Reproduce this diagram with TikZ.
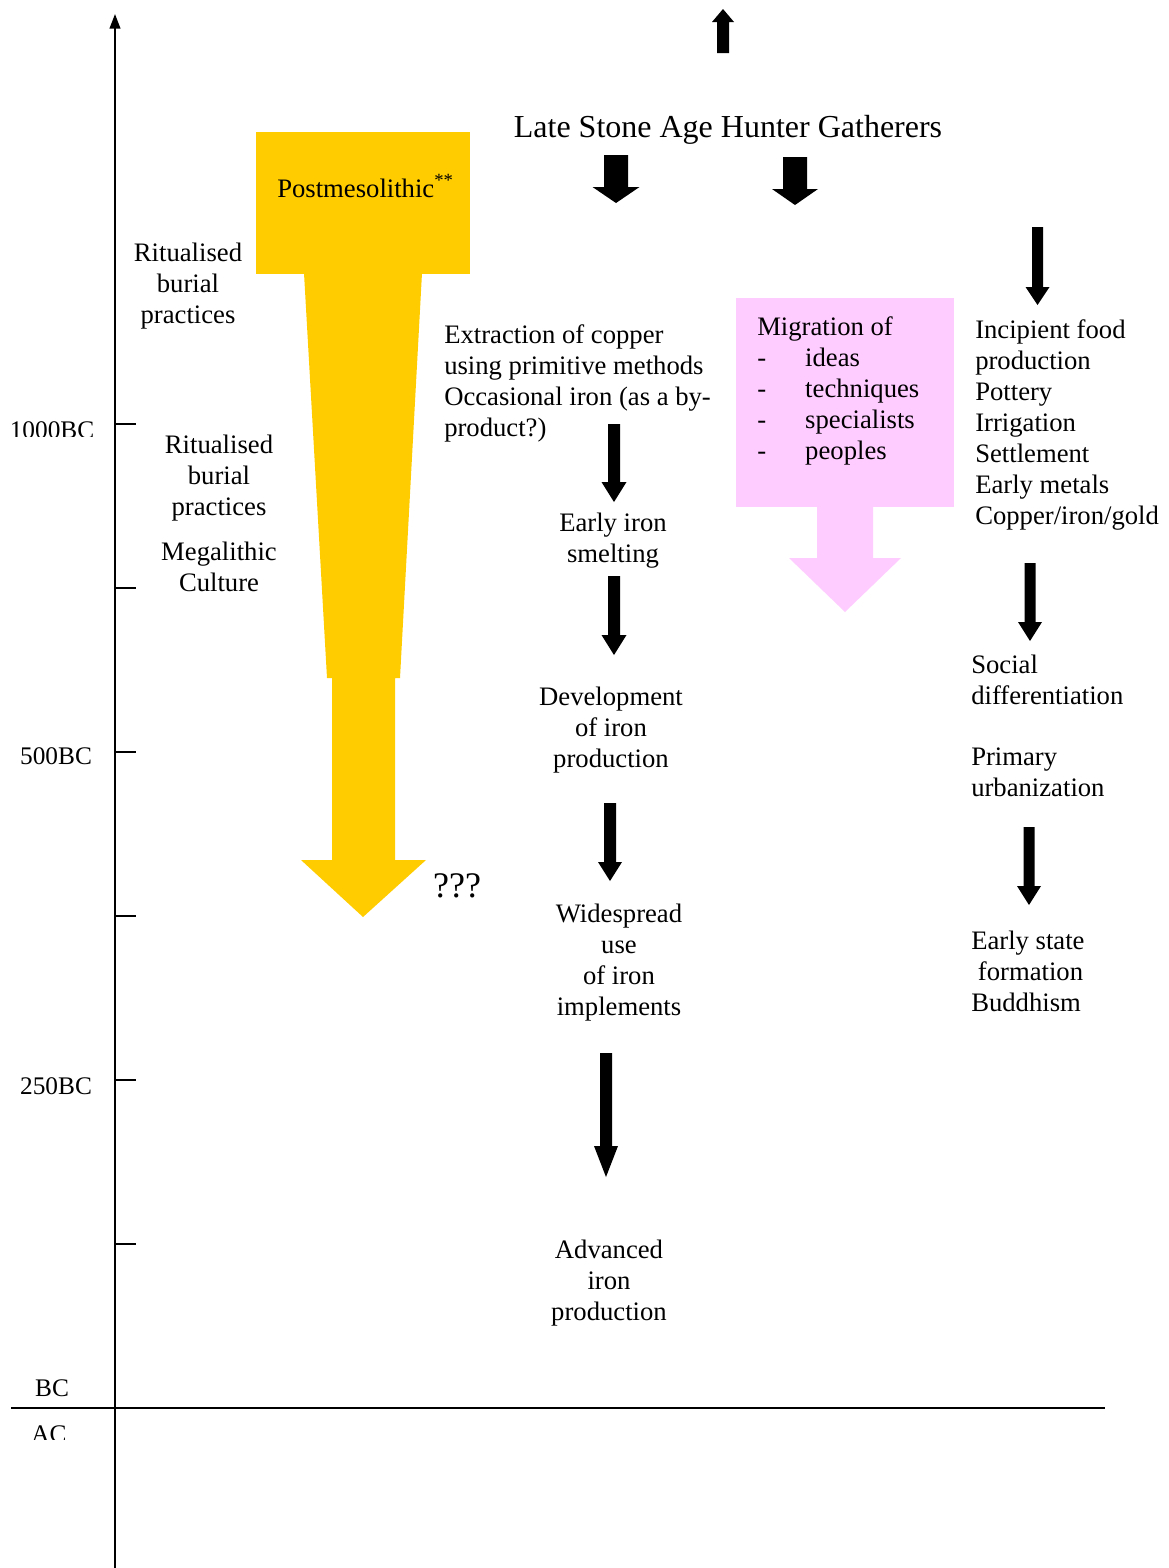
\documentclass[tikz,border=0pt]{standalone}
\usepackage{fontspec}
\setmainfont{Liberation Serif}
\usetikzlibrary{arrows.meta}
\definecolor{gold}{HTML}{FFCC00}
\definecolor{pinkish}{HTML}{FFCCFF}
% black block arrow: cx, tail end, head base, tip, shaft half-width, head half-width
\newcommand{\blkdown}[6]{%
  \fill[black] ({#1-#5},#2) -- ({#1+#5},#2) -- ({#1+#5},#3) -- ({#1+#6},#3) -- (#1,#4) -- ({#1-#6},#3) -- ({#1-#5},#3) -- cycle;}
\tikzset{
  txt/.style={font=\fontsize{20}{23.25}\selectfont, inner sep=0pt, align=center},
  ltxt/.style={txt, align=left, anchor=west},
  axlab/.style={font=\fontsize{19}{22}\selectfont, inner sep=0pt},
  axis/.style={line width=1.5pt, black},
}
\begin{document}
\begin{tikzpicture}[x=0.75pt, y=-0.75pt]
\useasboundingbox (0,0) rectangle (1169,1568);

% time axis
\draw[axis, -{Triangle[length=11pt,width=8pt]}] (115,1568) -- (115,14);
\foreach \ty in {424,588,752,916,1080,1244} \draw[axis] (115,\ty) -- (136,\ty);
\draw[axis] (11,1408) -- (1105,1408);

\begin{scope}
  \clip (0,410) rectangle (112,436);
  \node[axlab] (l1000) at (52,430) {1000BC};
\end{scope}
\node[axlab] (l500) at (56,756) {500BC};
\node[axlab] (l250) at (56,1086) {250BC};
\node[axlab] (lbc) at (52,1388) {BC};
\begin{scope}
  \clip (0,1415) rectangle (112,1439);
  \node[axlab] (lac) at (49,1434) {AC};
\end{scope}

% yellow postmesolithic shape
\fill[gold] (256,132) rectangle (470,274);
\fill[gold] (304,273) -- (422,273) -- (400,678) -- (395,678) -- (395,860) -- (426,860)
  -- (363,917) -- (301,860) -- (332,860) -- (332,678) -- (327,678) -- cycle;
\node[txt, anchor=base west] (post) at (277,197) {Postmesolithic\textsuperscript{**}};
\node[txt, font=\fontsize{27}{30}\selectfont] (qqq) at (457,886) {???};

% pink migration shape
\fill[pinkish] (736,298) rectangle (954,507);
\fill[pinkish] (817,506) -- (873,506) -- (873,558) -- (901,558) -- (845,612) -- (789,558) -- (817,558) -- cycle;
\node[ltxt] (migr) at (757,391) {Migration of\\
  \makebox[36pt][l]{-}ideas\\
  \makebox[36pt][l]{-}techniques\\
  \makebox[36pt][l]{-}specialists\\
  \makebox[36pt][l]{-}peoples};

% top
\blkdown{723}{53}{22}{9}{6}{11}
\node[txt, font=\fontsize{24}{28}\selectfont] (title) at (728,130) {Late Stone Age Hunter Gatherers};
\blkdown{616}{155}{187}{203}{12}{23.5}
\blkdown{795}{157}{189}{205}{12}{23}

% left texts
\node[txt] (rit1) at (188,286) {Ritualised\\burial\\practices};
\node[txt] (rit2) at (219,478) {Ritualised\\burial\\practices};
\node[txt] (mega) at (219,567) {Megalithic\\Culture};

% middle column
\node[ltxt] (extr) at (444,383) {Extraction of copper\\using primitive methods\\Occasional iron (as a by-\\product?)};
\blkdown{614}{424}{482}{502}{6}{12.5}
\node[txt] (early) at (613,541) {Early iron\\smelting};
\blkdown{614}{576}{635}{655}{6}{12.5}
\node[txt] (devel) at (611,730) {Development\\of iron\\production};
\blkdown{610}{803}{862}{881}{6}{12}
\node[txt] (wide) at (619,963) {Widespread\\use\\of iron\\implements};
\blkdown{606}{1053}{1146}{1177}{6}{12}
\node[txt] (adv) at (609,1283) {Advanced\\iron\\production};

% right column
\blkdown{1037.5}{227}{287}{305}{5.5}{12}
\node[ltxt] (incip) at (975,425) {Incipient food\\production\\Pottery\\Irrigation\\Settlement\\Early metals\\Copper/iron/gold};
\blkdown{1030}{563}{622}{641}{5.5}{12}
\node[ltxt] (social) at (971,680) {Social\\differentiation};
\node[ltxt] (urban) at (971,772) {Primary\\urbanization};
\blkdown{1029}{827}{886}{905}{5.5}{12}
\node[ltxt] (state) at (971,971) {Early state\\\hspace*{5pt}formation\\Buddhism};
\end{tikzpicture}
\end{document}
